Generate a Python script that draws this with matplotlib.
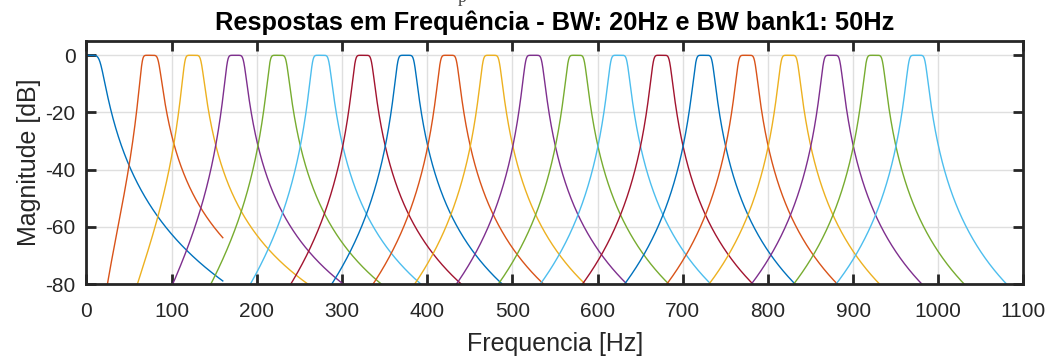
import numpy as np
import matplotlib.pyplot as plt

# filter bank
centers = [75, 125, 175, 225, 275, 325, 375, 425, 475, 525, 575, 625, 675, 725, 775, 825, 875, 925, 975]
bw = 20          # Hz, bandpass width
order = 4        # butterworth prototype order
lp_cut = 16.5    # Hz, first (lowpass) filter
bank1_end = 160  # Hz, first two curves stop here
f_end = 1100

colors = ['#0072BD', '#D95319', '#EDB120', '#7E2F8E', '#77AC30', '#4DBEEE', '#A2142F']

plt.rcParams['font.family'] = ['Liberation Sans', 'DejaVu Sans']
plt.rcParams['axes.unicode_minus'] = False

fig = plt.figure(figsize=(10.51, 3.58), dpi=100)
ax = fig.add_axes([0.0823, 0.2067, 0.8915, 0.6788])

# lowpass
f = np.linspace(0, bank1_end, 800)
h = -10 * np.log10(1 + (f / lp_cut) ** (2 * order))
ax.plot(f, h, color=colors[0], lw=1.0)

# bandpass filters
for i, fc in enumerate(centers):
    f1, f2 = fc - bw / 2, fc + bw / 2
    f0sq = f1 * f2
    stop = bank1_end if i == 0 else f_end
    f = np.linspace(1, stop, 6000)
    om = (f ** 2 - f0sq) / (f * bw)
    h = -10 * np.log10(1 + om ** (2 * order))
    ax.plot(f, h, color=colors[(i + 1) % len(colors)], lw=1.0)

ax.set_xlim(0, 1100)
ax.set_ylim(-80, 5)
ax.set_xticks(np.arange(0, 1101, 100))
ax.set_yticks(np.arange(-80, 1, 20))
ax.grid(True, color='#dfdfdf', lw=1.0)
ax.set_axisbelow(True)
for s in ax.spines.values():
    s.set_linewidth(2.0)
    s.set_color('#262626')
ax.tick_params(direction='in', length=7, width=2, color='#262626', top=True, right=True,
               labelsize=15, labelcolor='#262626')
ax.tick_params(axis='x', pad=13)
ax.tick_params(axis='y', pad=8)

ax.set_xlabel('Frequencia [Hz]', fontsize=18, color='#262626', labelpad=8)
ax.set_ylabel('Magnitude [dB]', fontsize=18, color='#262626', labelpad=3)
ax.set_title('Respostas em Frequência - BW: 20Hz e BW bank1: 50Hz', fontsize=18.3,
             fontweight='bold', color='black', pad=8)

# bit of text cut off at the top edge
fig.text(462 / 1051, 1 - 2 / 358, 'p', fontsize=13, family='Liberation Serif',
         ha='center', va='baseline', color='#444444')

fig.savefig('out.png', dpi=100)
